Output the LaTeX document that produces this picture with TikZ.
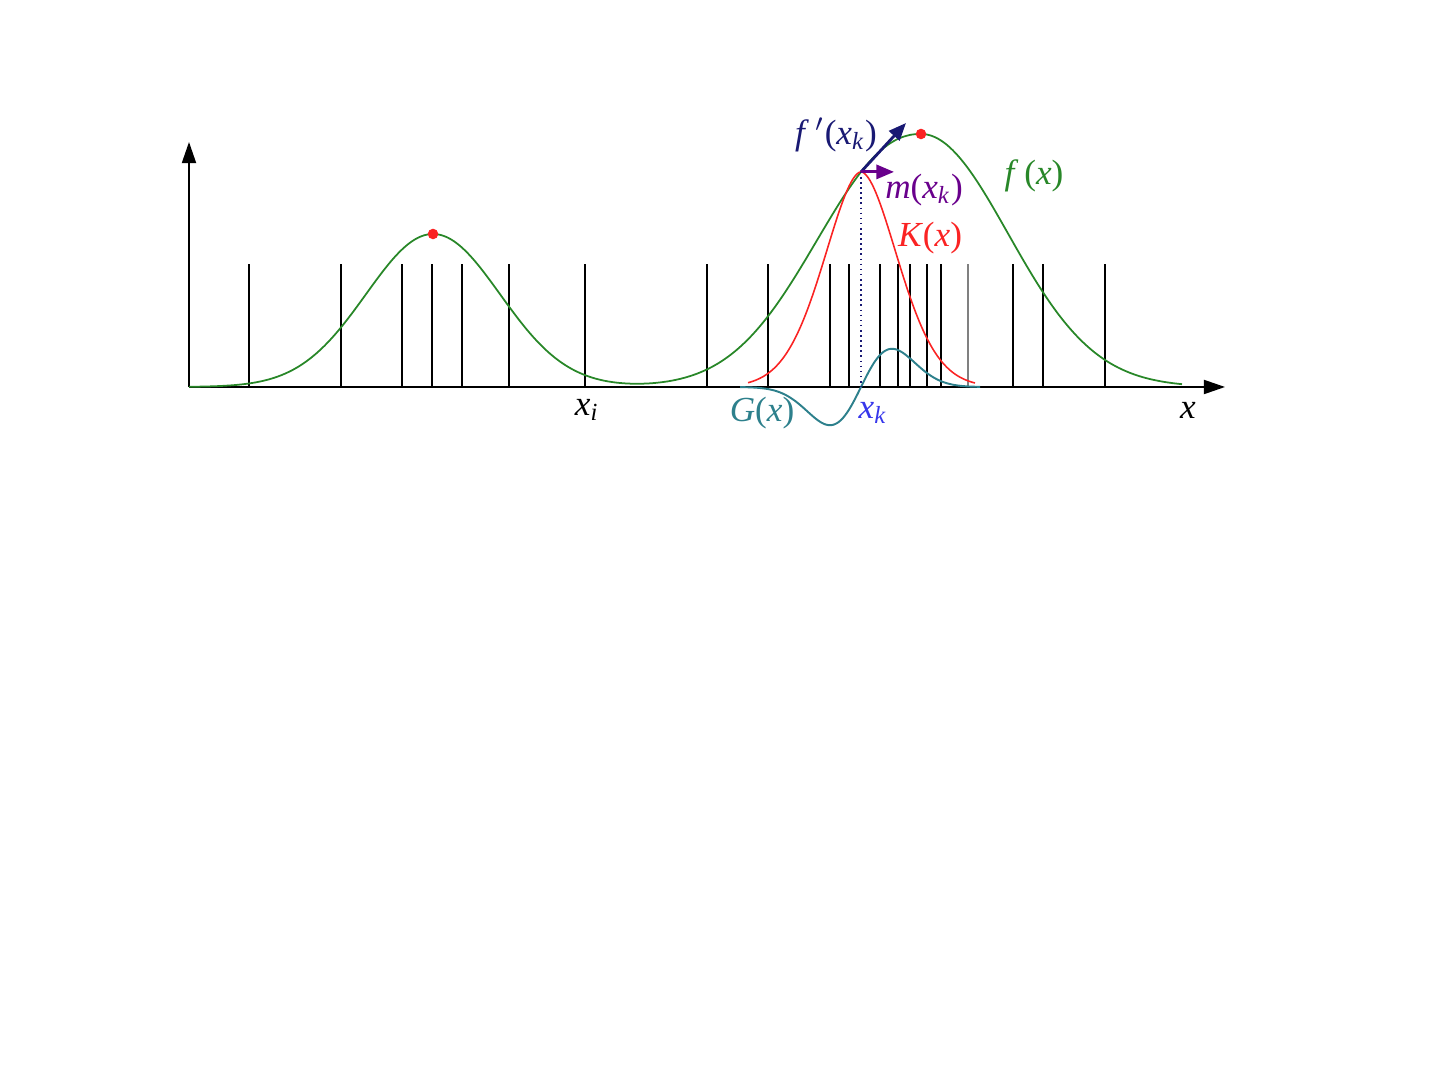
\documentclass[tikz,border=0pt]{standalone}
\usepackage{tikz}
\usepackage{fontspec}
\setmainfont{Liberation Serif}
\usetikzlibrary{arrows.meta, calc}

\definecolor{fgreen}{RGB}{40,135,40}
\definecolor{kred}{RGB}{250,35,35}
\definecolor{gteal}{RGB}{45,128,140}
\definecolor{snavy}{RGB}{25,25,115}
\definecolor{mpurple}{RGB}{105,0,140}
\definecolor{kblue}{RGB}{55,55,235}

\newcommand{\iv}[1]{\textit{#1}}

\begin{document}
\begin{tikzpicture}[
  x=0.01cm, y=-0.01cm,
  font=\fontsize{10}{12}\selectfont,
  declare function={
    fl(\t)=153*exp(max(-15,-((\t-433)/67)*((\t-433)/67)/2));
    frl(\t)=253*exp(max(-15,-(abs((\t-921)/100)^2.2)/2));
    frr(\t)=253*exp(max(-15,-((\t-921)/87)*((\t-921)/87)/2));
    fr(\t)=(\t<921)?frl(\t):frr(\t);
    kern(\t)=(fl(861)+fr(861))*exp(max(-15,-(abs((\t-861)/36)^1.8)/2));
    grad(\t)=63*((\t-861)/31)*exp(-((\t-861)/31)*((\t-861)/31)/2);
  },
  axis/.style={line width=0.5pt, -{Triangle[length=6pt, width=4pt]}},
  sample/.style={line width=0.35pt},
  fcurve/.style={fgreen, line width=0.5pt},
  kcurve/.style={kred, line width=0.45pt},
  gcurve/.style={gteal, line width=0.55pt},
  slope/.style={snavy, line width=0.8pt, -{Triangle[length=5pt, width=4pt]}},
  meanarr/.style={mpurple, line width=0.8pt, -{Triangle[length=5pt, width=4pt]}},
  mode/.style={circle, fill=kred, inner sep=0pt, minimum size=3pt},
  lab/.style={inner sep=1pt},
]

\useasboundingbox (0,0) rectangle (1440,1080);

% ---------------------------------------------------------------
% axes and sample points
% ---------------------------------------------------------------
\coordinate (O) at (189,387);
\coordinate (ytip) at (189,142);
\coordinate (xtip) at (1225,387);

\foreach \s in {249,341,402,432,462,509,585,707,768,830,849,880,898,910,927,941,1013,1043,1105}
  \draw[sample] (\s,387) -- (\s,264);
\draw[sample, gray] (968,387) -- (968,264);

\draw[axis] (O) -- (ytip);
\draw[axis] (O) -- (xtip);

% ---------------------------------------------------------------
% density, kernel and its gradient
% ---------------------------------------------------------------
\draw[fcurve] plot[domain=189:1182, samples=250, smooth] (\x,{387-fl(\x)-fr(\x)});
\draw[kcurve] plot[domain=748:975, samples=120, smooth] (\x,{387-kern(\x)});
\draw[gcurve] plot[domain=740:980, samples=120, smooth] (\x,{387-grad(\x)});

\node[mode] (mode1) at (433,234) {};
\node[mode] (mode2) at (921,134) {};

% current point, slope and mean shift
\coordinate (xk) at (861,{387-fl(861)-fr(861)});
\coordinate (slopetip) at (906,123);
\coordinate (meantip) at ($(xk)+(33,0)$);
\draw[snavy, densely dotted, line width=0.45pt] (xk) -- (xk |- O);
\draw[slope] (xk) -- (slopetip);
\draw[meanarr] (xk) -- (meantip);

% ---------------------------------------------------------------
% labels
% ---------------------------------------------------------------
\node[lab, snavy] (slopelab) at (836,135) {\iv{f}\,$'$(\iv{x}\textsubscript{\iv{k}})};
\node[lab, mpurple] (meanlab) at (924,190) {\iv{m}(\iv{x}\textsubscript{\iv{k}})};
\node[lab, fgreen] (flab) at (1034,176) {\iv{f}\,(\iv{x})};
\node[lab, kred] (klab) at (930,238) {\iv{K}(\iv{x})};
\node[lab, gteal] (glab) at (762,413) {\iv{G}(\iv{x})};
\node[lab, kblue] (xklab) at (873,413) {\iv{x}\textsubscript{\iv{k}}};
\node[lab] (xilab) at (587,410) {\iv{x}\textsubscript{\iv{i}}};
\node[lab] (xlab) at (1188,410) {\iv{x}};

\end{tikzpicture}
\end{document}
